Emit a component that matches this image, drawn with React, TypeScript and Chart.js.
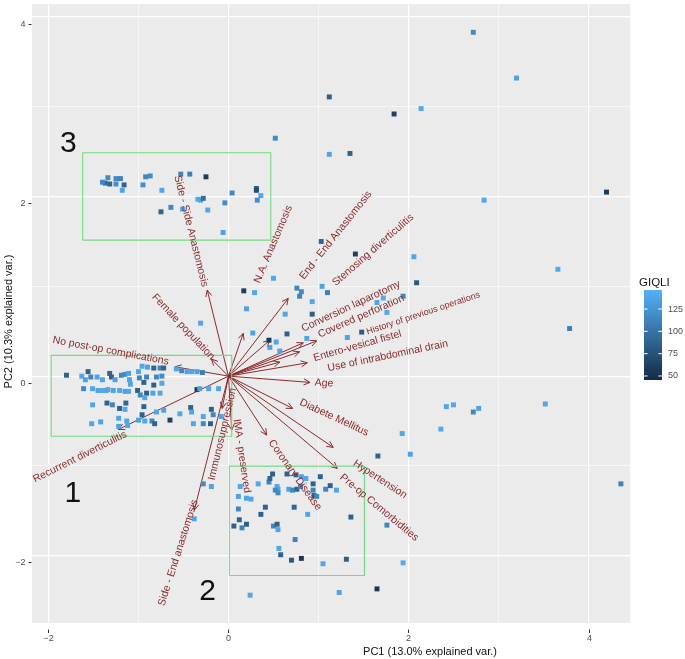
import React, { useEffect, useRef } from "react";
import { Chart, registerables } from "chart.js";

Chart.register(...registerables);

const FONT = '"Liberation Sans", Arial, Helvetica, sans-serif';

// ---------------- data ----------------
const PC1 = [
  -1.34, -1.37, -1.40, -1.32, -1.25, -1.20, -1.25, -1.16, -1.18, -0.92,
  -0.87, -0.95, -0.74, -0.53, -0.43, -0.25, -0.34, -0.31, -0.28, -0.23,
  -0.75, -0.64, -0.51, -0.04, 0.04, -0.06, 0.31, 0.31, 0.36, 0.32,
  0.52, 1.12, 1.84, 2.14, 1.12, 1.35, 2.72, 3.20, 2.84, 4.20,
  3.66, 3.79, 1.03, 1.41, 2.06, 0.50, 2.09, 0.17, 0.29, 0.76,
  0.81, 0.79, 1.04, 1.10, 0.20, 0.93, 0.63, 0.93, 1.72, 1.65,
  1.76, 1.94, 0.27, 0.65, 0.45, 0.53, 0.46, 0.57, 0.87, 1.32,
  1.48, -0.31, 2.42, 2.50, 2.72, 2.78, 3.52, 2.36, 1.93, 4.36,
  1.66, 2.02, 1.76, 1.94, 1.65, 1.23, 0.24,
  -0.96, -0.90, -0.83, -0.76, -0.72, -0.58, -0.52, -0.46, -0.41, -0.35,
  -0.29, -1.80, -1.63, -1.56, -1.53, -1.46, -1.40, -1.32, -1.30, -1.26,
  -1.19, -1.15, -1.11, -1.10, -1.09, -1.00, -0.99, -0.91, -0.94, -0.83,
  -0.80, -0.74, -0.74, -1.59, -1.61, -1.51, -1.45, -1.41, -1.36, -1.34,
  -1.28, -1.21, -1.15, -1.11, -1.01, -0.98, -0.91, -0.93, -0.84, -0.76,
  -0.35, -0.32, -0.22, -0.11, -1.51, -1.35, -1.29, -1.21, -1.14, -1.15,
  -0.94, -0.80, -0.72, -0.54, -0.42, -0.41, -0.28, -0.19, -0.17, -0.08,
  -1.52, -1.42, -1.22, -1.13, -1.00, -0.96, -0.93, -0.85, -0.82, -0.65,
  -0.39, -0.28, -0.20, -1.22, -1.12, -0.28, -0.19, -0.38,
  0.13, 0.11, 0.20, 0.25, 0.11, 0.12, 0.06, 0.15, 0.20, 0.33,
  0.45, 0.46, 0.49, 0.54, 0.55, 0.52, 0.55, 0.65, 0.75, 0.81,
  0.86, 0.67, 0.71, 0.76, 0.80, 0.94, 0.94, 0.95, 0.98, 1.02,
  1.08, 1.13, 1.20, 0.41, 0.36, 0.73, 0.88, 0.50, 0.54, 0.55,
  0.74, 0.56, 0.58, 0.70, 0.81, 1.05, 1.31, 1.36,
];
const PC2 = [
  2.21, 2.15, 2.16, 2.14, 2.20, 2.20, 2.14, 2.13, 2.07, 2.22,
  2.23, 2.13, 2.07, 2.25, 2.25, 2.22, 1.97, 1.96, 1.98, 1.85,
  1.83, 1.88, 1.86, 1.93, 2.04, 1.60, 2.09, 2.07, 2.01, 1.96,
  2.65, 3.11, 2.92, 2.98, 2.47, 2.48, 3.83, 3.32, 1.96, 2.05,
  1.19, 0.53, 1.50, 1.36, 1.33, 1.09, 1.04, 0.95, 0.93, 0.98,
  0.94, 0.89, 1.00, 0.93, 0.75, 0.83, 0.69, 0.69, 0.87, 0.82,
  0.71, 0.89, 0.48, 0.47, 0.40, 0.38, 0.32, 0.28, 0.42, 0.43,
  0.49, 0.59, -0.34, -0.32, -0.40, -0.36, -0.31, -0.59, -0.64, -1.20,
  -0.89, -0.87, -1.66, -2.08, -2.37, -2.41, -2.44,
  0.11, 0.10, 0.09, 0.09, 0.09, 0.08, 0.06, 0.05, 0.05, 0.05,
  0.04, 0.01, 0.00, 0.05, -0.01, -0.01, -0.04, 0.03, -0.01, -0.04,
  0.01, 0.02, 0.03, -0.04, -0.09, 0.05, -0.02, -0.01, -0.07, -0.10,
  -0.01, 0.00, -0.08, -0.04, -0.14, -0.14, -0.16, -0.16, -0.16, -0.15,
  -0.16, -0.16, -0.17, -0.17, -0.16, -0.21, -0.19, -0.24, -0.19, -0.19,
  -0.15, -0.14, -0.14, -0.14, -0.32, -0.30, -0.32, -0.36, -0.30, -0.37,
  -0.34, -0.40, -0.38, -0.42, -0.35, -0.40, -0.45, -0.37, -0.43, -0.45,
  -0.53, -0.51, -0.47, -0.50, -0.49, -0.43, -0.50, -0.50, -0.53, -0.49,
  -0.53, -0.53, -0.53, -0.56, -0.55, -1.20, -1.23, -1.59,
  -1.23, -1.34, -1.36, -1.37, -1.48, -1.60, -1.67, -1.69, -1.65, -1.20,
  -1.18, -1.14, -1.09, -1.23, -1.26, -1.27, -1.30, -1.09, -1.10, -1.12,
  -1.14, -1.26, -1.27, -1.26, -1.23, -1.20, -1.27, -1.33, -1.34, -1.12,
  -1.26, -1.22, -1.27, -1.46, -1.54, -1.46, -1.54, -1.67, -1.65, -1.71,
  -1.82, -1.92, -1.99, -2.05, -2.03, -2.09, -2.04, -1.57,
];
const GIQLI = [
  118, 92, 115, 90, 116, 112, 120, 88, 136, 114,
  118, 120, 138, 112, 110, 58, 140, 136, 95, 138,
  88, 115, 137, 118, 116, 135, 85, 70, 138, 120,
  118, 85, 62, 140, 138, 88, 118, 136, 138, 58,
  140, 110, 90, 62, 138, 138, 80, 60, 138, 115,
  118, 112, 136, 110, 136, 138, 137, 85, 140, 138,
  140, 115, 136, 86, 55, 138, 135, 138, 138, 136,
  82, 138, 138, 140, 115, 136, 138, 140, 138, 112,
  88, 136, 115, 140, 55, 136, 138,
  138, 136, 88, 112, 90, 138, 115, 136, 138, 134,
  110, 88, 138, 86, 112, 136, 138, 90, 85, 135,
  115, 118, 136, 138, 137, 138, 115, 112, 88, 85,
  116, 118, 138, 136, 116, 138, 136, 140, 138, 137,
  136, 138, 135, 138, 88, 115, 86, 138, 136, 138,
  58, 136, 138, 137, 138, 88, 115, 86, 90, 137,
  88, 138, 136, 138, 86, 137, 138, 85, 115, 138,
  138, 136, 137, 138, 136, 88, 138, 115, 86, 62,
  138, 116, 85, 136, 138, 118, 136, 138,
  138, 136, 138, 137, 115, 88, 86, 112, 85, 138,
  115, 90, 85, 138, 136, 116, 115, 86, 88, 137,
  138, 136, 114, 88, 115, 86, 112, 85, 116, 88,
  115, 86, 138, 88, 85, 90, 138, 115, 86, 137,
  112, 138, 86, 80, 55, 138, 85, 88,
];

// variable loadings (arrow tips) and their labels
const VAR_NAMES = [
  "Side - Side Anastomosis", "Female population", "No post-op complications",
  "Recurrent diverticulitis", "Side - End anastomosis", "Immunosuppression",
  "IMA - preserved", "Coronary Disease", "Diabete Mellitus", "Hypertension",
  "Pre-op Comorbidities", "Age", "Use of intrabdominal drain",
  "Entero-vesical fistel", "History of previous operations",
  "Covered perforation", "Conversion laparotomy", "Stenosing diverticulitis",
  "End - End Anastomosis", "N.A. Anastomosis",
];
const VAR_PC1 = [
  -0.236, -0.19, -0.594, -1.224, -0.38, -0.07, 0.036, 0.424, 0.713, 1.164,
  1.209, 0.906, 0.876, 0.57, 0.79, 0.98, 0.831, 0.46, 0.664, 0.164,
];
const VAR_PC2 = [
  0.958, 0.19, 0.104, -0.594, -1.493, -0.36, -0.602, -0.657, -0.36, -0.794,
  -1.028, -0.07, 0.148, 0.156, 0.27, 0.393, 0.371, 0.4, 0.866, 0.476,
];
const LABEL_PC1 = [
  -0.417, -0.502, -1.308, -1.65, -0.558, -0.067, 0.147, 0.739, 1.174, 1.683,
  1.674, 1.061, 1.77, 1.433, 2.164, 1.474, 1.361, 1.606, 1.192, 0.498,
];
const LABEL_PC2 = [
  1.616, 0.549, 0.281, -0.899, -1.967, -0.646, -0.889, -1.103, -0.462, -1.15,
  -1.465, -0.079, 0.225, 0.336, 0.699, 0.666, 0.778, 1.404, 1.569, 1.469,
];
const LABEL_ANGLE = [
  76, 46.6, 10.7, -26.6, -72.4, -76.7, 81.7, 54.5, 24.8, 33.2,
  39.7, 4, -11.7, -15.8, -18.4, -23.7, -25, -41, -51.6, -67,
];

// group boxes and their numbers
const GROUP_NAMES = ["1", "2", "3"];
const BOX_PC1_MIN = [-1.97, 0.01, -1.62];
const BOX_PC1_MAX = [0.036, 1.51, 0.47];
const BOX_PC2_MIN = [-0.669, -2.221, 1.515];
const BOX_PC2_MAX = [0.231, -1.003, 2.488];
const GROUP_LABEL_PC1 = [-1.728, -0.233, -1.778];
const GROUP_LABEL_PC2 = [-1.281, -2.373, 2.618];

// axes
const X_MIN = -2.183;
const X_MAX = 4.461;
const Y_MIN = -2.75;
const Y_MAX = 4.145;
const X_TICKS = [-2, 0, 2, 4];
const Y_TICKS = [-2, 0, 2, 4];
const X_TITLE = "PC1 (13.0% explained var.)";
const Y_TITLE = "PC2 (10.3% explained var.)";

// colour legend
const LEGEND_TITLE = "GIQLI";
const LEGEND_TICKS = [50, 75, 100, 125];
const GIQLI_MIN = 45.5;
const GIQLI_MAX = 146.3;

// ---------------- styling helpers ----------------
const LOW = [19, 43, 67];
const HIGH = [86, 177, 247];
function giqliColor(v: number): string {
  const t = Math.max(0, Math.min(1, (v - GIQLI_MIN) / (GIQLI_MAX - GIQLI_MIN)));
  const c = LOW.map((l, i) => Math.round(l + (HIGH[i] - l) * t));
  return `rgb(${c[0]},${c[1]},${c[2]})`;
}
const DARKRED = "#8B2B2B";
const fmt = (v: number) => (v < 0 ? "\u2212" + Math.abs(v) : String(v));

const biplotPlugin = {
  id: "biplot",
  beforeDraw(chart: any) {
    const { ctx, chartArea: a } = chart;
    ctx.save();
    ctx.fillStyle = "#EBEBEB";
    ctx.fillRect(a.left, a.top, a.right - a.left, a.bottom - a.top);
    ctx.restore();
  },
  beforeDatasetsDraw(chart: any) {
    const { ctx, chartArea: a, scales } = chart;
    const xs = scales.x, ys = scales.y;
    ctx.save();
    ctx.beginPath();
    ctx.rect(a.left, a.top, a.right - a.left, a.bottom - a.top);
    ctx.clip();
    ctx.strokeStyle = DARKRED;
    ctx.lineWidth = 1;
    const x0 = xs.getPixelForValue(0), y0 = ys.getPixelForValue(0);
    VAR_PC1.forEach((vx, i) => {
      const x1 = xs.getPixelForValue(vx), y1 = ys.getPixelForValue(VAR_PC2[i]);
      ctx.beginPath();
      ctx.moveTo(x0, y0);
      ctx.lineTo(x1, y1);
      ctx.stroke();
      const ang = Math.atan2(y1 - y0, x1 - x0);
      const L = 7, w = 0.45;
      ctx.beginPath();
      ctx.moveTo(x1 - L * Math.cos(ang - w), y1 - L * Math.sin(ang - w));
      ctx.lineTo(x1, y1);
      ctx.lineTo(x1 - L * Math.cos(ang + w), y1 - L * Math.sin(ang + w));
      ctx.stroke();
    });
    ctx.restore();
  },
  afterDatasetsDraw(chart: any) {
    const { ctx, scales } = chart;
    const xs = scales.x, ys = scales.y;
    ctx.save();
    ctx.fillStyle = DARKRED;
    ctx.textAlign = "center";
    ctx.textBaseline = "middle";
    VAR_NAMES.forEach((name, i) => {
      const px = xs.getPixelForValue(LABEL_PC1[i]);
      const py = ys.getPixelForValue(LABEL_PC2[i]);
      ctx.save();
      ctx.translate(px, py);
      ctx.rotate((LABEL_ANGLE[i] * Math.PI) / 180);
      ctx.font = `${name.startsWith("History") ? 9 : 10.5}px ${FONT}`;
      ctx.fillText(name, 0, 0);
      ctx.restore();
    });
    ctx.fillStyle = "#111111";
    ctx.font = `30px ${FONT}`;
    ctx.textBaseline = "alphabetic";
    GROUP_NAMES.forEach((g, i) => {
      const px = xs.getPixelForValue(GROUP_LABEL_PC1[i]);
      const py = ys.getPixelForValue(GROUP_LABEL_PC2[i]);
      ctx.fillText(g, px, py + 10.7);
    });
    ctx.restore();
  },
  afterDraw(chart: any) {
    const { ctx, chartArea: a, scales } = chart;
    const xs = scales.x, ys = scales.y;
    ctx.save();
    // ticks
    ctx.strokeStyle = "#333333";
    ctx.lineWidth = 1;
    ctx.fillStyle = "#4D4D4D";
    ctx.font = `9px ${FONT}`;
    X_TICKS.forEach((v) => {
      const px = Math.round(xs.getPixelForValue(v)) + 0.5;
      ctx.beginPath();
      ctx.moveTo(px, a.bottom + 6.5);
      ctx.lineTo(px, a.bottom + 10);
      ctx.stroke();
      ctx.textAlign = "center";
      ctx.textBaseline = "middle";
      ctx.fillText(fmt(v), px, a.bottom + 15.5);
    });
    Y_TICKS.forEach((v) => {
      const py = Math.round(ys.getPixelForValue(v) + 6.5) + 0.5;
      ctx.beginPath();
      ctx.moveTo(a.left - 3.5, py);
      ctx.lineTo(a.left - 0.5, py);
      ctx.stroke();
      ctx.textAlign = "right";
      ctx.textBaseline = "middle";
      ctx.fillText(fmt(v), a.left - 6.5, py);
    });
    // axis titles
    ctx.fillStyle = "#111111";
    ctx.font = `11px ${FONT}`;
    ctx.textAlign = "center";
    ctx.textBaseline = "middle";
    ctx.fillText(X_TITLE, 430, a.bottom + 28.5);
    ctx.save();
    ctx.translate(9, (a.top + a.bottom) / 2 + 8);
    ctx.rotate(-Math.PI / 2);
    ctx.fillText(Y_TITLE, 0, 0);
    ctx.restore();
    // colour legend
    const barL = 644, barR = 662, barT = 290, barB = 380;
    const grad = ctx.createLinearGradient(0, barB, 0, barT);
    for (let k = 0; k <= 10; k++) {
      const v = GIQLI_MIN + ((GIQLI_MAX - GIQLI_MIN) * k) / 10;
      grad.addColorStop(k / 10, giqliColor(v));
    }
    ctx.fillStyle = grad;
    ctx.fillRect(barL, barT, barR - barL, barB - barT);
    ctx.fillStyle = "#111111";
    ctx.font = `11.5px ${FONT}`;
    ctx.textAlign = "left";
    ctx.textBaseline = "middle";
    ctx.fillText(LEGEND_TITLE, 639, 283);
    ctx.font = `9px ${FONT}`;
    ctx.fillStyle = "#4D4D4D";
    ctx.strokeStyle = "#FFFFFF";
    LEGEND_TICKS.forEach((v) => {
      const py = barB - ((v - GIQLI_MIN) / (GIQLI_MAX - GIQLI_MIN)) * (barB - barT);
      ctx.beginPath();
      ctx.moveTo(barL, py);
      ctx.lineTo(barL + 3.6, py);
      ctx.moveTo(barR - 3.6, py);
      ctx.lineTo(barR, py);
      ctx.stroke();
      ctx.fillText(String(v), 668, py);
    });
    ctx.restore();
  },
};

export default function App() {
  const ref = useRef<HTMLCanvasElement>(null);
  useEffect(() => {
    document.body.style.margin = "0";
    const canvas = ref.current;
    if (!canvas) return;
    const points = PC1.map((x, i) => ({ x, y: PC2[i] }));
    const boxes = GROUP_NAMES.map((_, i) => ({
      data: [
        { x: BOX_PC1_MIN[i], y: BOX_PC2_MIN[i] },
        { x: BOX_PC1_MAX[i], y: BOX_PC2_MIN[i] },
        { x: BOX_PC1_MAX[i], y: BOX_PC2_MAX[i] },
        { x: BOX_PC1_MIN[i], y: BOX_PC2_MAX[i] },
        { x: BOX_PC1_MIN[i], y: BOX_PC2_MIN[i] },
      ],
      showLine: true,
      borderColor: "#72DC80",
      borderWidth: 1.1,
      pointRadius: 0,
      fill: false,
      tension: 0,
      order: 0,
    }));
    const isMajor = (v: number) => Math.abs(v % 2) < 1e-6;
    const chart = new Chart(canvas, {
      type: "scatter",
      data: {
        datasets: [
          {
            data: points,
            pointStyle: "rect",
            pointRadius: 3.5,
            pointHoverRadius: 3.5,
            backgroundColor: GIQLI.map(giqliColor),
            borderWidth: 0,
            order: 1,
          },
          ...boxes,
        ] as any,
      },
      options: {
        animation: false,
        responsive: false,
        devicePixelRatio: 1,
        events: [],
        layout: { padding: { left: 0, top: 4, right: 55, bottom: 0 } },
        plugins: { legend: { display: false }, tooltip: { enabled: false } },
        scales: {
          x: {
            type: "linear",
            min: X_MIN,
            max: X_MAX,
            afterFit: (s: any) => {
              s.height = 36;
            },
            ticks: { display: false, stepSize: 1, includeBounds: false },
            grid: {
              color: "#FFFFFF",
              lineWidth: (c: any) => (isMajor(c.tick?.value ?? 1) ? 1.2 : 0.6),
              drawTicks: false,
            },
            border: { display: false },
          },
          y: {
            type: "linear",
            min: Y_MIN,
            max: Y_MAX,
            afterFit: (s: any) => {
              s.width = 32;
            },
            ticks: { display: false, stepSize: 1, includeBounds: false },
            grid: {
              color: "#FFFFFF",
              lineWidth: (c: any) => (isMajor(c.tick?.value ?? 1) ? 1.2 : 0.6),
              drawTicks: false,
            },
            border: { display: false },
          },
        },
      } as any,
      plugins: [biplotPlugin],
    });
    return () => chart.destroy();
  }, []);
  return <canvas ref={ref} width={685} height={659} style={{ display: "block" }} />;
}
